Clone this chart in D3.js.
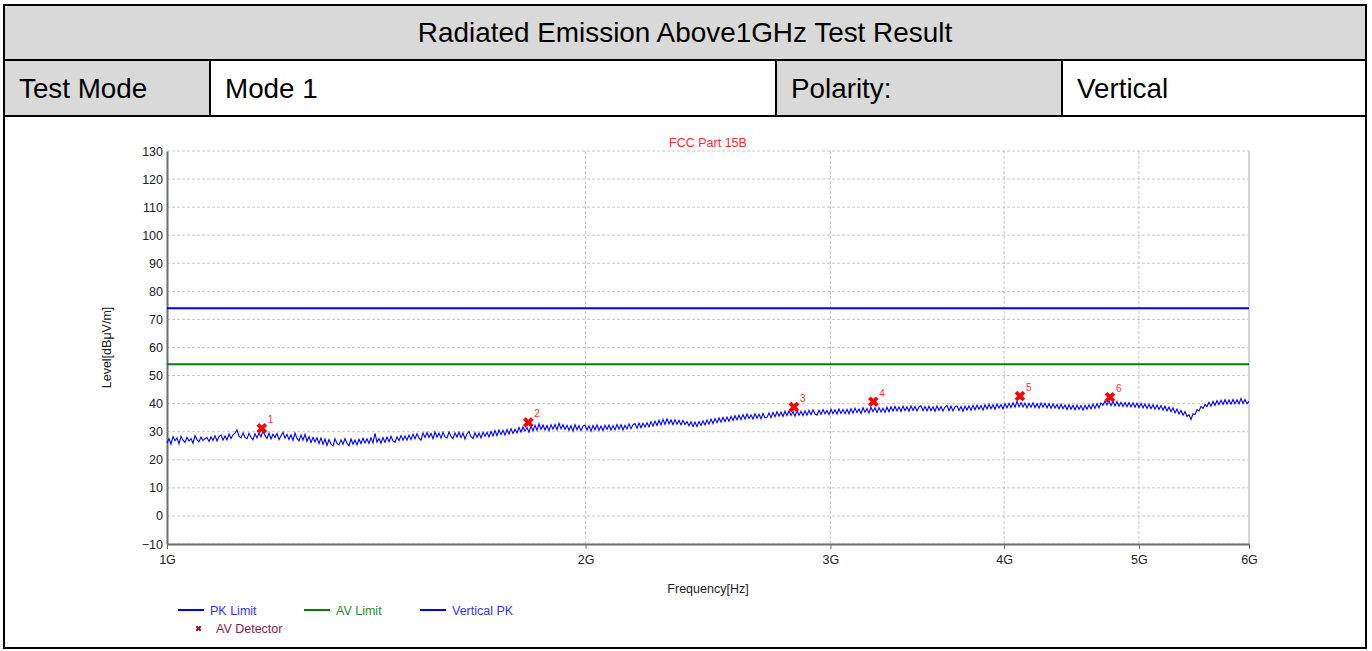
<!DOCTYPE html>
<html>
<head>
<meta charset="utf-8">
<script src="https://cdn.jsdelivr.net/npm/d3@7"></script>
<style>
  body { margin: 0; background: #fff; }
  svg text { font-family: "Liberation Sans", Arial, sans-serif; }
</style>
</head>
<body>
<svg id="page" width="1372" height="651"></svg>
<script>
// header table
let title = 'Radiated Emission Above1GHz Test Result'
let headerCells = ['Test Mode', 'Mode 1', 'Polarity:', 'Vertical']

// chart texts
let chartTitle = 'FCC Part 15B'
let xTitle = 'Frequency[Hz]'
let yTitle = 'Level[dBμV/m]'

// axes
let yTicks = [-10, 0, 10, 20, 30, 40, 50, 60, 70, 80, 90, 100, 110, 120, 130]
let xTicks = [1e9, 2e9, 3e9, 4e9, 5e9, 6e9]
let xTickLabels = ['1G', '2G', '3G', '4G', '5G', '6G']

// limits (dBuV/m)
let pkLimit = 74
let avLimit = 54

// sweep of the Vertical PK trace, 1 GHz .. 6 GHz
let sweepStart = 1e9, sweepStop = 6e9
let vertPK = [
  26.0,27.5,25.6,28.3,26.8,27.8,25.7,28.4,27.0,26.2,28.0,26.7,27.6,25.9,28.6,27.2,26.4,28.1,26.8,27.5,
  27.9,26.5,28.2,26.9,28.6,26.7,28.3,28.9,27.0,28.5,27.1,29.2,27.6,28.9,29.5,30.6,28.4,27.8,29.6,28.0,
  27.5,29.4,28.0,27.1,29.3,27.8,29.6,28.2,30.2,28.7,27.6,29.5,27.4,29.1,27.9,29.4,27.2,28.6,29.8,27.7,
  29.1,27.2,28.9,26.9,29.5,27.6,26.7,28.8,27.0,29.1,26.6,28.3,26.1,28.0,26.4,27.9,25.8,27.8,25.5,27.4,
  25.1,27.2,25.6,24.9,27.5,25.8,25.3,27.1,25.5,27.6,25.9,25.0,27.4,25.6,27.0,25.3,27.3,25.8,27.7,26.0,
  27.5,25.8,27.8,26.0,29.4,26.3,27.6,25.9,27.9,26.2,28.1,26.4,28.4,26.7,26.3,28.2,26.8,28.6,27.0,28.5,
  27.0,28.8,27.2,29.1,27.5,29.3,27.7,27.0,29.6,27.9,29.7,28.0,29.4,27.5,29.9,28.1,29.5,27.7,29.8,28.2,
  27.8,29.9,28.3,27.5,29.6,28.1,29.8,27.9,29.5,27.4,29.3,30.1,28.2,27.6,29.6,28.0,29.5,27.8,29.8,28.4,
  29.8,28.1,30.1,28.5,30.4,28.6,30.6,29.0,30.5,28.8,30.8,29.2,31.1,29.4,30.9,29.6,31.5,29.9,31.7,30.2,
  31.5,29.8,32.0,30.3,32.3,30.5,32.8,30.8,32.4,30.6,32.2,30.4,32.5,30.9,32.6,30.7,33.0,31.0,32.5,30.8,
  32.3,30.5,32.1,30.2,32.5,30.7,32.2,30.4,32.0,32.4,30.6,32.1,30.2,32.2,30.7,32.5,30.5,32.0,30.4,32.3,
  30.8,32.4,30.5,32.2,30.7,32.6,30.9,32.5,30.6,32.3,31.0,32.8,31.1,32.5,32.9,31.2,33.1,31.4,33.0,31.7,
  33.2,31.7,33.6,32.0,33.8,32.2,34.1,32.4,34.4,32.6,34.6,32.8,34.2,32.5,34.3,32.7,34.1,32.4,34.0,32.6,
  33.6,32.1,33.5,31.9,33.4,31.8,33.6,32.2,33.9,32.4,34.2,32.7,34.5,32.9,34.7,33.2,34.9,33.4,35.1,33.6,
  35.2,33.7,35.5,34.0,35.7,34.2,35.9,34.3,36.1,34.5,36.3,34.7,36.0,34.5,36.4,34.8,36.2,34.6,36.5,34.9,
  35.1,36.7,35.0,36.9,35.3,37.1,35.5,37.0,35.4,37.3,35.7,37.4,35.8,37.2,35.5,37.5,35.9,37.3,35.7,37.4,
  35.9,37.6,36.1,37.8,36.3,35.9,37.7,36.2,37.9,36.4,37.6,36.1,38.0,36.4,37.8,36.3,38.1,36.5,37.9,36.4,
  38.0,36.4,38.2,36.6,38.4,36.8,38.1,36.5,38.5,36.9,38.3,36.7,38.7,37.1,38.5,36.8,38.6,37.0,38.4,36.9,
  38.7,37.1,38.9,37.3,39.0,37.4,38.8,37.2,39.1,37.5,38.9,37.3,39.2,37.6,39.0,37.4,38.8,39.2,37.5,39.0,
  37.4,39.1,37.5,38.9,37.3,39.2,37.6,39.0,37.4,38.8,39.3,37.5,39.1,37.4,38.9,39.2,37.6,39.0,37.3,39.1,
  37.7,39.2,37.6,39.4,37.8,39.5,38.0,39.3,37.7,39.6,38.1,39.8,38.2,39.6,38.0,39.9,38.4,39.7,38.1,40.0,
  38.5,40.1,38.6,40.3,38.7,40.8,38.9,40.4,38.8,40.2,38.5,40.1,38.7,40.3,38.6,40.0,38.4,40.2,38.7,40.1,
  38.5,40.0,38.3,39.9,38.4,39.7,38.1,39.8,38.2,39.5,37.9,39.6,38.0,39.4,37.8,39.5,38.0,39.3,37.7,39.4,
  38.0,39.6,38.1,39.8,38.3,40.0,38.5,40.2,39.4,40.9,39.5,41.1,39.3,40.8,39.2,40.7,39.1,40.5,39.0,40.4,
  38.9,40.4,38.8,40.3,38.7,40.2,38.6,40.1,38.5,39.9,38.3,39.8,38.2,39.6,38.0,39.5,37.9,39.3,37.7,39.1,
  37.4,38.8,37.1,38.5,36.7,38.1,36.3,37.6,35.9,37.2,35.4,36.1,34.4,36.4,36.1,37.9,37.4,39.0,38.3,39.7,
  39.0,40.5,39.1,40.8,39.4,41.1,39.6,41.2,39.7,41.4,39.9,41.3,39.8,41.5,40.0,41.4,39.9,41.8,40.1,41.5,
  40.0,40.8
]

// AV detector markers
let markerFreqs = [1.170e9, 1.819e9, 2.824e9, 3.221e9, 4.106e9, 4.766e9]
let markerLevels = [31.2, 33.3, 38.8, 40.7, 42.7, 42.3]
let markerLabels = ['1', '2', '3', '4', '5', '6']

let svg = d3.select('#page')

// ---- header table ----
let T = {left: 4, right: 1366, top: 5, bottom: 648, row1: 60, row2: 116}
svg.append('rect').attr('x', T.left).attr('y', T.top)
    .attr('width', T.right - T.left).attr('height', T.row2 - T.top)
    .attr('fill', '#d9d9d9')
let cellX = [T.left, 210, 776, 1062, T.right]
svg.selectAll('rect.cell')
    .data(headerCells)
  .enter().append('rect')
    .attr('class', 'cell')
    .attr('x', (d, i) => cellX[i]).attr('y', T.row1)
    .attr('width', (d, i) => cellX[i + 1] - cellX[i]).attr('height', T.row2 - T.row1)
    .attr('fill', (d, i) => i % 2 ? '#ffffff' : '#d9d9d9')
svg.append('text')
    .attr('x', (T.left + T.right) / 2).attr('y', 42)
    .attr('text-anchor', 'middle').attr('font-size', 27.9).attr('fill', '#000')
    .text(title)
svg.selectAll('text.cell')
    .data(headerCells)
  .enter().append('text')
    .attr('class', 'cell')
    .attr('x', (d, i) => cellX[i] + 15).attr('y', 98)
    .attr('font-size', 27.8).attr('fill', '#000')
    .text(d => d)

let lines = svg.append('g').attr('stroke', '#000').attr('stroke-width', 2)
lines.append('rect').attr('x', T.left).attr('y', T.top)
    .attr('width', T.right - T.left).attr('height', T.bottom - T.top).attr('fill', 'none')
lines.append('line').attr('x1', T.left).attr('x2', T.right).attr('y1', T.row1).attr('y2', T.row1)
lines.append('line').attr('x1', T.left).attr('x2', T.right).attr('y1', T.row2).attr('y2', T.row2)
cellX.slice(1, 4).forEach(cx => {
    lines.append('line').attr('x1', cx).attr('x2', cx).attr('y1', T.row1).attr('y2', T.row2)
})

// ---- chart ----
let plot = {left: 167, right: 1249, top: 151, bottom: 544}

let x = d3.scaleLog()
    .domain([1e9, 6e9])
    .range([plot.left, plot.right])
let y = d3.scaleLinear()
    .domain([-10, 130])
    .range([plot.bottom, plot.top])

let chart = svg.append('g')

// grid
chart.append('g')
    .selectAll('line')
    .data(yTicks)
  .enter().append('line')
    .attr('x1', plot.left).attr('x2', plot.right)
    .attr('y1', d => y(d)).attr('y2', d => y(d))
    .attr('stroke', '#c8c8c8').attr('stroke-dasharray', '3,2')
chart.append('g')
    .selectAll('line')
    .data(xTicks.slice(1, 5))
  .enter().append('line')
    .attr('x1', d => x(d)).attr('x2', d => x(d))
    .attr('y1', plot.top).attr('y2', plot.bottom)
    .attr('stroke', '#c8c8c8').attr('stroke-dasharray', '3,2')
chart.append('line')
    .attr('x1', plot.right).attr('x2', plot.right)
    .attr('y1', plot.top).attr('y2', plot.bottom)
    .attr('stroke', '#d4d4d4').attr('stroke-width', 2)

// axes
let yAxis = d3.axisLeft(y).tickValues(yTicks).tickSize(0).tickPadding(4)
let yg = chart.append('g').attr('transform', `translate(${plot.left},0)`).call(yAxis)
yg.select('.domain').attr('stroke', '#6e6e6e').attr('stroke-width', 2)
yg.selectAll('text').attr('font-size', 12.5).attr('fill', '#222')
    .attr('font-family', '"Liberation Sans", Arial, sans-serif')

let xAxis = d3.axisBottom(x).tickValues(xTicks).tickFormat((d, i) => xTickLabels[i])
    .tickSize(5).tickSizeOuter(0).tickPadding(6)
let xg = chart.append('g').attr('transform', `translate(0,${plot.bottom})`).call(xAxis)
xg.select('.domain').attr('stroke', '#6e6e6e').attr('stroke-width', 2)
xg.selectAll('.tick line').attr('stroke', '#6e6e6e')
xg.selectAll('text').attr('font-size', 12.5).attr('fill', '#222')
    .attr('font-family', '"Liberation Sans", Arial, sans-serif')

// titles
chart.append('text')
    .attr('x', (plot.left + plot.right) / 2).attr('y', 147)
    .attr('text-anchor', 'middle').attr('font-size', 12.5).attr('fill', '#ff2a2a')
    .text(chartTitle)
chart.append('text')
    .attr('x', (plot.left + plot.right) / 2).attr('y', 593)
    .attr('text-anchor', 'middle').attr('font-size', 12.5).attr('fill', '#222')
    .text(xTitle)
chart.append('text')
    .attr('transform', `translate(111,${(plot.top + plot.bottom) / 2}) rotate(-90)`)
    .attr('text-anchor', 'middle').attr('font-size', 12.5).attr('fill', '#222')
    .text(yTitle)

// limit lines
chart.append('line')
    .attr('x1', plot.left).attr('x2', plot.right)
    .attr('y1', y(pkLimit)).attr('y2', y(pkLimit))
    .attr('stroke', '#0000ff').attr('stroke-width', 2)
chart.append('line')
    .attr('x1', plot.left).attr('x2', plot.right)
    .attr('y1', y(avLimit)).attr('y2', y(avLimit))
    .attr('stroke', '#008000').attr('stroke-width', 2)

// trace
let logStep = Math.log(sweepStop / sweepStart) / (vertPK.length - 1)
let tracePts = vertPK.map((v, i) => [sweepStart * Math.exp(i * logStep), v])
let line = d3.line()
    .x(d => x(d[0]))
    .y(d => y(d[1]))
chart.append('path')
    .datum(tracePts)
    .attr('d', line)
    .attr('fill', 'none')
    .attr('stroke', '#0000ff')
    .attr('stroke-width', 1.1)

// markers
let xSym = d3.symbol().type(d3.symbolCross).size(70)
chart.selectAll('path.marker')
    .data(markerFreqs)
  .enter().append('path')
    .attr('class', 'marker')
    .attr('d', xSym)
    .attr('transform', (d, i) => `translate(${x(d)},${y(markerLevels[i])}) rotate(45)`)
    .attr('fill', '#ff0000')
chart.selectAll('text.mlabel')
    .data(markerFreqs)
  .enter().append('text')
    .attr('class', 'mlabel')
    .attr('x', d => x(d) + 6)
    .attr('y', (d, i) => y(markerLevels[i]) - 5)
    .attr('font-size', 10).attr('fill', '#ff3030')
    .text((d, i) => markerLabels[i])

// legend
let legend = [
    {name: 'PK Limit', color: '#0000ff', text: '#3333ff', x: 178, y: 610},
    {name: 'AV Limit', color: '#008000', text: '#2e8b2e', x: 304, y: 610},
    {name: 'Vertical PK', color: '#0000ff', text: '#3333ff', x: 420, y: 610}
]
let lg = chart.append('g')
lg.selectAll('line')
    .data(legend)
  .enter().append('line')
    .attr('x1', d => d.x).attr('x2', d => d.x + 26)
    .attr('y1', d => d.y).attr('y2', d => d.y)
    .attr('stroke', d => d.color).attr('stroke-width', 2)
lg.selectAll('text')
    .data(legend)
  .enter().append('text')
    .attr('x', d => d.x + 32).attr('y', d => d.y + 4.5)
    .attr('font-size', 12.5).attr('fill', d => d.text)
    .text(d => d.name)
lg.append('path')
    .attr('d', d3.symbol().type(d3.symbolCross).size(22))
    .attr('transform', 'translate(198.5,628.5) rotate(45)')
    .attr('fill', '#7a1a3a')
lg.append('text')
    .attr('x', 216).attr('y', 633)
    .attr('font-size', 12.5).attr('fill', '#8b1a4a')
    .text('AV Detector')
</script>
</body>
</html>
